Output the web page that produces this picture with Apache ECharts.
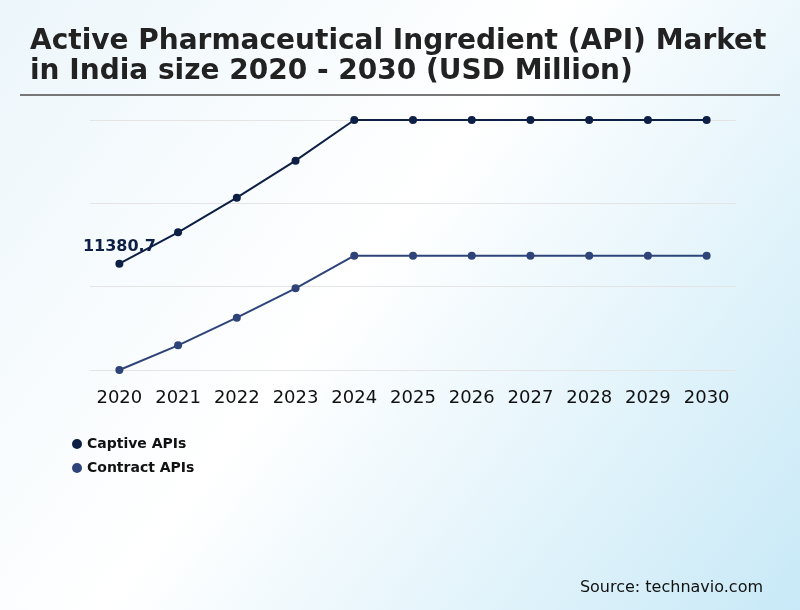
<!DOCTYPE html>
<html>
<head>
<meta charset="utf-8">
<script src="https://cdn.jsdelivr.net/npm/echarts@6/dist/echarts.min.js"></script>
<style>
  html, body { margin: 0; padding: 0; }
  #main { width: 800px; height: 610px; }
</style>
</head>
<body>
<div id="main"></div>
<script>
const years = ['2020', '2021', '2022', '2023', '2024', '2025', '2026', '2027', '2028', '2029', '2030'];
const captive = [11380.7, 13260, 15340, 17560, 20000, 20000, 20000, 20000, 20000, 20000, 20000];
const contract = [5000, 6480, 8140, 9900, 11860, 11860, 11860, 11860, 11860, 11860, 11860];

const FONT = 'DejaVu Sans';

const chart = echarts.init(document.getElementById('main'));

const option = {
    backgroundColor: new echarts.graphic.LinearGradient(0, 0, 1, 1, [
        { offset: 0, color: '#ecf6fb' },
        { offset: 0.45, color: '#ffffff' },
        { offset: 1, color: '#c8e9f7' }
    ]),
    textStyle: { fontFamily: FONT },
    title: {
        text: 'Active Pharmaceutical Ingredient (API) Market\nin India size 2020 - 2030 (USD Million)',
        left: 25,
        top: 22,
        textStyle: {
            fontSize: 28,
            fontWeight: 'bold',
            color: '#222',
            lineHeight: 30,
            fontFamily: FONT
        }
    },
    graphic: [
        {
            type: 'line',
            shape: { x1: 20, y1: 95, x2: 780, y2: 95 },
            style: { stroke: '#777', lineWidth: 2 }
        },
        {
            type: 'text',
            right: 37,
            top: 580,
            style: { text: 'Source: technavio.com', fontSize: 16, fill: '#111', fontFamily: FONT }
        }
    ],
    legend: {
        orient: 'vertical',
        left: 67,
        top: 432,
        itemGap: 10,
        itemWidth: 10,
        itemHeight: 10,
        icon: 'circle',
        textStyle: { fontSize: 14, fontWeight: 'bold', color: '#111', fontFamily: FONT },
        data: ['Captive APIs', 'Contract APIs']
    },
    grid: { left: 90, right: 64, top: 120, bottom: 240 },
    xAxis: {
        type: 'category',
        data: years,
        boundaryGap: true,
        axisLine: { show: false },
        axisTick: { show: false },
        axisLabel: { interval: 0, fontSize: 18, color: '#111', margin: 19, fontFamily: FONT }
    },
    yAxis: {
        type: 'value',
        min: 5000,
        max: 20000,
        interval: 5000,
        axisLabel: { show: false },
        axisLine: { show: false },
        axisTick: { show: false },
        splitLine: { lineStyle: { color: '#e4e4e4' } }
    },
    series: [
        {
            name: 'Captive APIs',
            type: 'line',
            data: captive,
            symbol: 'circle',
            symbolSize: 8,
            color: '#0d1f45',
            lineStyle: { width: 2 },
            label: {
                show: true,
                position: 'top',
                distance: 5,
                fontSize: 16,
                fontWeight: 'bold',
                color: '#0d1f45',
                fontFamily: FONT,
                formatter: p => (p.dataIndex === 0 ? String(p.value) : '')
            }
        },
        {
            name: 'Contract APIs',
            type: 'line',
            data: contract,
            symbol: 'circle',
            symbolSize: 8,
            color: '#2e4479',
            lineStyle: { width: 2 }
        }
    ]
};

chart.setOption(option);
</script>
</body>
</html>
